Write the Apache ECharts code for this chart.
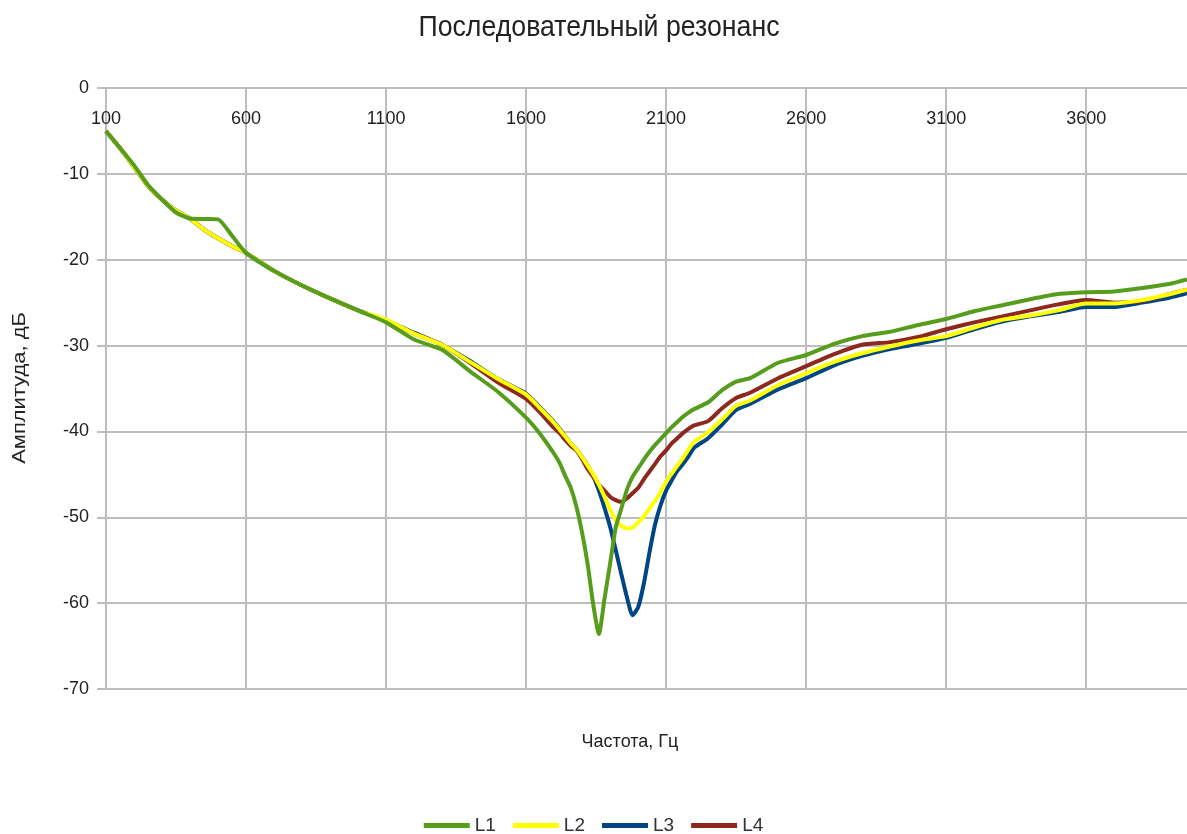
<!DOCTYPE html>
<html>
<head>
<meta charset="utf-8">
<script src="https://cdn.jsdelivr.net/npm/echarts@6/dist/echarts.min.js"></script>
<style>
  html, body { margin: 0; padding: 0; background: #fff; }
  #chart { width: 1187px; height: 834px; }
</style>
</head>
<body>
<div id="chart"></div>
<script>
// частоты, Гц
const freq = [100, 150, 200, 250, 300, 350, 400, 450, 500, 550, 600, 700, 800, 900, 1000, 1100, 1200, 1300, 1400, 1500, 1600, 1650,
  1700, 1720, 1740, 1760, 1780, 1800, 1820, 1840, 1860, 1880, 1900, 1920, 1940, 1960, 1980, 2000, 2020, 2040, 2060, 2080, 2100,
  2120, 2140, 2160, 2180, 2200, 2250, 2300, 2350, 2400, 2500, 2600, 2700, 2800, 2900, 3000, 3100, 3200, 3300, 3400, 3500, 3600,
  3700, 3800, 3900, 3960];

// амплитуды, дБ
const l1 = [-5.0, -7.0, -9.0, -11.3, -13.0, -14.5, -15.2, -15.25, -15.3, -17.2, -19.2, -21.3, -23.0, -24.5, -25.9, -27.3, -29.3, -30.5, -33.0, -35.4, -38.4, -40.3,
  -42.6, -43.7, -45.2, -46.6, -48.8, -51.8, -55.5, -60.2, -63.6, -59.5, -55.4, -51.2, -49.0, -46.8, -45.3, -44.3, -43.3, -42.4, -41.6, -40.9, -40.2,
  -39.5, -38.9, -38.3, -37.8, -37.4, -36.6, -35.2, -34.2, -33.8, -32.0, -31.1, -29.8, -28.9, -28.4, -27.6, -26.9, -26.0, -25.3, -24.6, -24.0, -23.8,
  -23.7, -23.3, -22.8, -22.3];
const l2 = [-5.0, -7.0, -9.2, -11.4, -13.0, -14.3, -15.2, -16.5, -17.5, -18.4, -19.2, -21.3, -23.0, -24.5, -25.9, -27.0, -28.6, -29.9, -31.9, -33.9, -35.7, -37.3,
  -39.0, -39.8, -40.6, -41.4, -42.1, -43.0, -44.0, -45.0, -46.2, -47.6, -49.1, -50.3, -51.0, -51.3, -51.2, -50.6, -49.9, -49.0, -48.1, -47.1, -45.8,
  -44.9, -44.0, -43.1, -42.1, -41.2, -40.1, -38.6, -37.0, -36.4, -34.6, -33.2, -31.9, -30.9, -30.1, -29.4, -28.9, -27.9, -27.0, -26.5, -25.9, -25.1,
  -25.1, -24.7, -24.0, -23.5];
const l3 = [-5.0, -7.0, -9.2, -11.4, -13.0, -14.3, -15.2, -16.5, -17.5, -18.4, -19.2, -21.3, -23.0, -24.5, -25.9, -27.1, -28.5, -29.9, -31.8, -33.9, -35.6, -37.2,
  -38.9, -39.7, -40.6, -41.4, -42.1, -43.0, -44.0, -45.2, -46.9, -48.9, -51.1, -53.8, -56.6, -59.3, -61.4, -60.5, -57.8, -54.2, -50.9, -48.6, -46.9,
  -45.7, -44.6, -43.8, -42.9, -41.9, -40.8, -39.2, -37.5, -36.8, -35.1, -33.8, -32.3, -31.2, -30.4, -29.8, -29.1, -28.1, -27.2, -26.6, -26.1, -25.5,
  -25.5, -25.0, -24.4, -23.9];
const l4 = [-5.0, -7.0, -9.2, -11.4, -13.0, -14.3, -15.2, -16.5, -17.5, -18.4, -19.2, -21.3, -23.0, -24.5, -25.9, -27.1, -28.6, -29.9, -32.0, -34.3, -36.2, -37.8,
  -39.6, -40.2, -41.0, -41.7, -42.2, -43.2, -44.4, -45.3, -46.2, -46.9, -47.6, -48.0, -48.2, -47.8, -47.2, -46.6, -45.6, -44.7, -43.8, -42.9, -42.2,
  -41.4, -40.8, -40.2, -39.7, -39.3, -38.8, -37.3, -36.1, -35.5, -33.8, -32.4, -31.0, -29.9, -29.6, -29.0, -28.1, -27.3, -26.6, -25.9, -25.2, -24.7,
  -25.0, -24.8, -24.0, -23.5];

const FONT = "'Liberation Sans', Arial, sans-serif";
const gridColor = "#bdbdbd";

const pairs = (vals) => freq.map((f, i) => [f, vals[i]]);

const mkSeries = (name, vals, color, z) => ({
  name,
  type: "line",
  data: pairs(vals),
  showSymbol: false,
  smooth: 0.2,
  z,
  lineStyle: { color, width: 4 },
  itemStyle: { color },
});

const chart = echarts.init(document.getElementById("chart"), null, { renderer: "canvas" });

chart.setOption({
  animation: false,
  backgroundColor: "#fff",
  legend: {
    data: ["L1", "L2", "L3", "L4"],
    bottom: -6,
    left: "center",
    icon: "rect",
    itemWidth: 46,
    itemHeight: 5,
    itemGap: 17,
    textStyle: { fontFamily: FONT, fontSize: 19, color: "#333" },
  },
  grid: { left: 106, right: 0, top: 88, bottom: 145 },
  xAxis: {
    type: "value",
    position: "top",
    min: 100,
    max: 3960,
    interval: 500,
    axisLine: { lineStyle: { color: gridColor, width: 2 } },
    axisTick: { show: false },
    axisLabel: {
      inside: true,
      fontFamily: FONT,
      fontSize: 18,
      color: "#222",
      margin: 22,
      showMaxLabel: false,
      formatter: (v) => String(v),
    },
    splitLine: { show: true, showMaxLine: false, lineStyle: { color: gridColor, width: 2 } },
  },
  yAxis: {
    type: "value",
    min: -70,
    max: 0,
    interval: 10,
    axisLine: { show: false },
    axisTick: { show: true, length: 9, lineStyle: { color: gridColor, width: 2 } },
    axisLabel: { fontFamily: FONT, fontSize: 18, color: "#222", margin: 17 },
    splitLine: { show: true, lineStyle: { color: gridColor, width: 2 } },
  },
  graphic: [
    {
      type: "text",
      x: 599,
      y: 28,
      scaleX: 0.89,
      style: {
        text: "Последовательный резонанс",
        font: "30px " + FONT,
        fill: "#222",
        align: "center",
        verticalAlign: "middle",
      },
    },
    {
      type: "text",
      x: 630,
      y: 742,
      style: { text: "Частота, Гц", font: "18px " + FONT, fill: "#222", align: "center", verticalAlign: "middle" },
    },
    {
      type: "text",
      x: 20,
      y: 388,
      rotation: Math.PI / 2,
      scaleX: 1.22,
      style: { text: "Амплитуда, дБ", font: "18px " + FONT, fill: "#222", align: "center", verticalAlign: "middle" },
    },
  ],
  series: [
    mkSeries("L1", l1, "#579d1c", 5),
    mkSeries("L2", l2, "#ffff00", 4),
    mkSeries("L3", l3, "#004586", 2),
    mkSeries("L4", l4, "#8d281e", 3),
  ],
});
</script>
</body>
</html>
